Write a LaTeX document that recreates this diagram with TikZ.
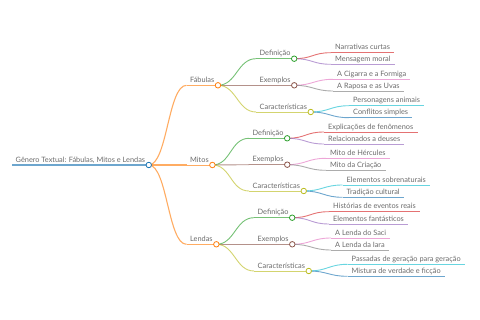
\documentclass[tikz,border=0pt]{standalone}
\usepackage{fontspec}
\setmainfont{Lato}
\usepackage{xcolor}
\usepackage{tikz}

\definecolor{mmblue}{HTML}{1F77B4}
\definecolor{mmorange}{HTML}{FF7F0E}
\definecolor{mmgreen}{HTML}{2CA02C}
\definecolor{mmred}{HTML}{D62728}
\definecolor{mmpurple}{HTML}{9467BD}
\definecolor{mmbrown}{HTML}{8C564B}
\definecolor{mmpink}{HTML}{E377C2}
\definecolor{mmgray}{HTML}{7F7F7F}
\definecolor{mmolive}{HTML}{BCBD22}
\definecolor{mmcyan}{HTML}{17BECF}

\tikzset{
  topic/.style={anchor=south west, inner xsep=3.5pt, inner ysep=2.5pt, text depth=0pt,
    text=black!58, font=\fontsize{7.35}{8}\selectfont},
  leaf/.style={topic, inner xsep=4pt},
  link/.style={line width=0.9pt, draw opacity=0.65},
  knob/.style={circle, draw, fill=white, inner sep=0pt, minimum size=5.5pt, line width=0.8pt},
}
\newcommand{\uline}[2]{\draw[link, #1] (#2.south west) -- (#2.south east);}
\newcommand{\branch}[3]{\draw[link, #1] (#2.south east) .. controls +(18.5,0) and +(-18.5,0) .. (#3.south west);}

\begin{document}
\begin{tikzpicture}[x=1pt, y=-1pt]
\useasboundingbox (0,0) rectangle (480,320);

% topics
\node[topic] (root) at (12,165) {Gênero Textual: Fábulas, Mitos e Lendas};
\node[topic] (fab) at (186.5,85.3) {Fábulas};
\node[topic] (mit) at (186.5,165) {Mitos};
\node[topic] (len) at (186.5,244.3) {Lendas};

\node[topic] (fabdef) at (256,58.7) {Definição};
\node[topic] (fabex) at (256,85.3) {Exemplos};
\node[topic] (fabcar) at (256,112) {Características};
\node[topic] (mitdef) at (249,138.3) {Definição};
\node[topic] (mitex) at (249,164.7) {Exemplos};
\node[topic] (mitcar) at (249,191) {Características};
\node[topic] (lendef) at (254,217.7) {Definição};
\node[topic] (lenex) at (254,244.3) {Exemplos};
\node[topic] (lencar) at (254,271) {Características};

% leaves
\node[leaf] (fabdefa) at (331,52.7) {Narrativas curtas};
\node[leaf] (fabdefb) at (331,64.3) {Mensagem moral};
\node[leaf] (fabexa) at (333,79.3) {A Cigarra e a Formiga};
\node[leaf] (fabexb) at (333,91) {A Raposa e as Uvas};
\node[leaf] (fabcara) at (349,105.7) {Personagens animais};
\node[leaf] (fabcarb) at (349,117.7) {Conflitos simples};
\node[leaf] (mitdefa) at (324,132) {Explicações de fenômenos};
\node[leaf] (mitdefb) at (324,144) {Relacionados a deuses};
\node[leaf] (mitexa) at (326,158.3) {Mito de Hércules};
\node[leaf] (mitexb) at (326,170.3) {Mito da Criação};
\node[leaf] (mitcara) at (342.5,185) {Elementos sobrenaturais};
\node[leaf] (mitcarb) at (342.5,197.3) {Tradição cultural};
\node[leaf] (lendefa) at (329,211.7) {Histórias de eventos reais};
\node[leaf] (lendefb) at (329,224) {Elementos fantásticos};
\node[leaf] (lenexa) at (331,238) {A Lenda do Saci};
\node[leaf] (lenexb) at (331,250) {A Lenda da Iara};
\node[leaf] (lencara) at (347.5,264.3) {Passadas de geração para geração};
\node[leaf] (lencarb) at (347.5,276.3) {Mistura de verdade e ficção};

% underlines
\draw[link, mmblue, line width=1.4pt] (root.south west) -- (root.south east);
\uline{mmorange}{fab} \uline{mmorange}{mit} \uline{mmorange}{len}
\uline{mmgreen}{fabdef} \uline{mmbrown}{fabex} \uline{mmolive}{fabcar}
\uline{mmgreen}{mitdef} \uline{mmbrown}{mitex} \uline{mmolive}{mitcar}
\uline{mmgreen}{lendef} \uline{mmbrown}{lenex} \uline{mmolive}{lencar}
\uline{mmred}{fabdefa} \uline{mmpurple}{fabdefb}
\uline{mmpink}{fabexa} \uline{mmgray}{fabexb}
\uline{mmcyan}{fabcara} \uline{mmblue}{fabcarb}
\uline{mmred}{mitdefa} \uline{mmpurple}{mitdefb}
\uline{mmpink}{mitexa} \uline{mmgray}{mitexb}
\uline{mmcyan}{mitcara} \uline{mmblue}{mitcarb}
\uline{mmred}{lendefa} \uline{mmpurple}{lendefb}
\uline{mmpink}{lenexa} \uline{mmgray}{lenexb}
\uline{mmcyan}{lencara} \uline{mmblue}{lencarb}

% branches
\branch{mmorange, line width=1.1pt}{root}{fab}
\branch{mmorange, line width=1.1pt}{root}{mit}
\branch{mmorange, line width=1.1pt}{root}{len}
\branch{mmgreen}{fab}{fabdef} \branch{mmbrown}{fab}{fabex} \branch{mmolive}{fab}{fabcar}
\branch{mmgreen}{mit}{mitdef} \branch{mmbrown}{mit}{mitex} \branch{mmolive}{mit}{mitcar}
\branch{mmgreen}{len}{lendef} \branch{mmbrown}{len}{lenex} \branch{mmolive}{len}{lencar}
\branch{mmred}{fabdef}{fabdefa} \branch{mmpurple}{fabdef}{fabdefb}
\branch{mmpink}{fabex}{fabexa} \branch{mmgray}{fabex}{fabexb}
\branch{mmcyan}{fabcar}{fabcara} \branch{mmblue}{fabcar}{fabcarb}
\branch{mmred}{mitdef}{mitdefa} \branch{mmpurple}{mitdef}{mitdefb}
\branch{mmpink}{mitex}{mitexa} \branch{mmgray}{mitex}{mitexb}
\branch{mmcyan}{mitcar}{mitcara} \branch{mmblue}{mitcar}{mitcarb}
\branch{mmred}{lendef}{lendefa} \branch{mmpurple}{lendef}{lendefb}
\branch{mmpink}{lenex}{lenexa} \branch{mmgray}{lenex}{lenexb}
\branch{mmcyan}{lencar}{lencara} \branch{mmblue}{lencar}{lencarb}

% knobs
\node[knob, draw=mmblue] (rootk) at (root.south east) {};
\node[knob, draw=mmorange] (fabk) at (fab.south east) {};
\node[knob, draw=mmorange] (mitk) at (mit.south east) {};
\node[knob, draw=mmorange] (lenk) at (len.south east) {};
\node[knob, draw=mmgreen] (fabdefk) at (fabdef.south east) {};
\node[knob, draw=mmbrown] (fabexk) at (fabex.south east) {};
\node[knob, draw=mmolive] (fabcark) at (fabcar.south east) {};
\node[knob, draw=mmgreen] (mitdefk) at (mitdef.south east) {};
\node[knob, draw=mmbrown] (mitexk) at (mitex.south east) {};
\node[knob, draw=mmolive] (mitcark) at (mitcar.south east) {};
\node[knob, draw=mmgreen] (lendefk) at (lendef.south east) {};
\node[knob, draw=mmbrown] (lenexk) at (lenex.south east) {};
\node[knob, draw=mmolive] (lencark) at (lencar.south east) {};
\end{tikzpicture}
\end{document}
